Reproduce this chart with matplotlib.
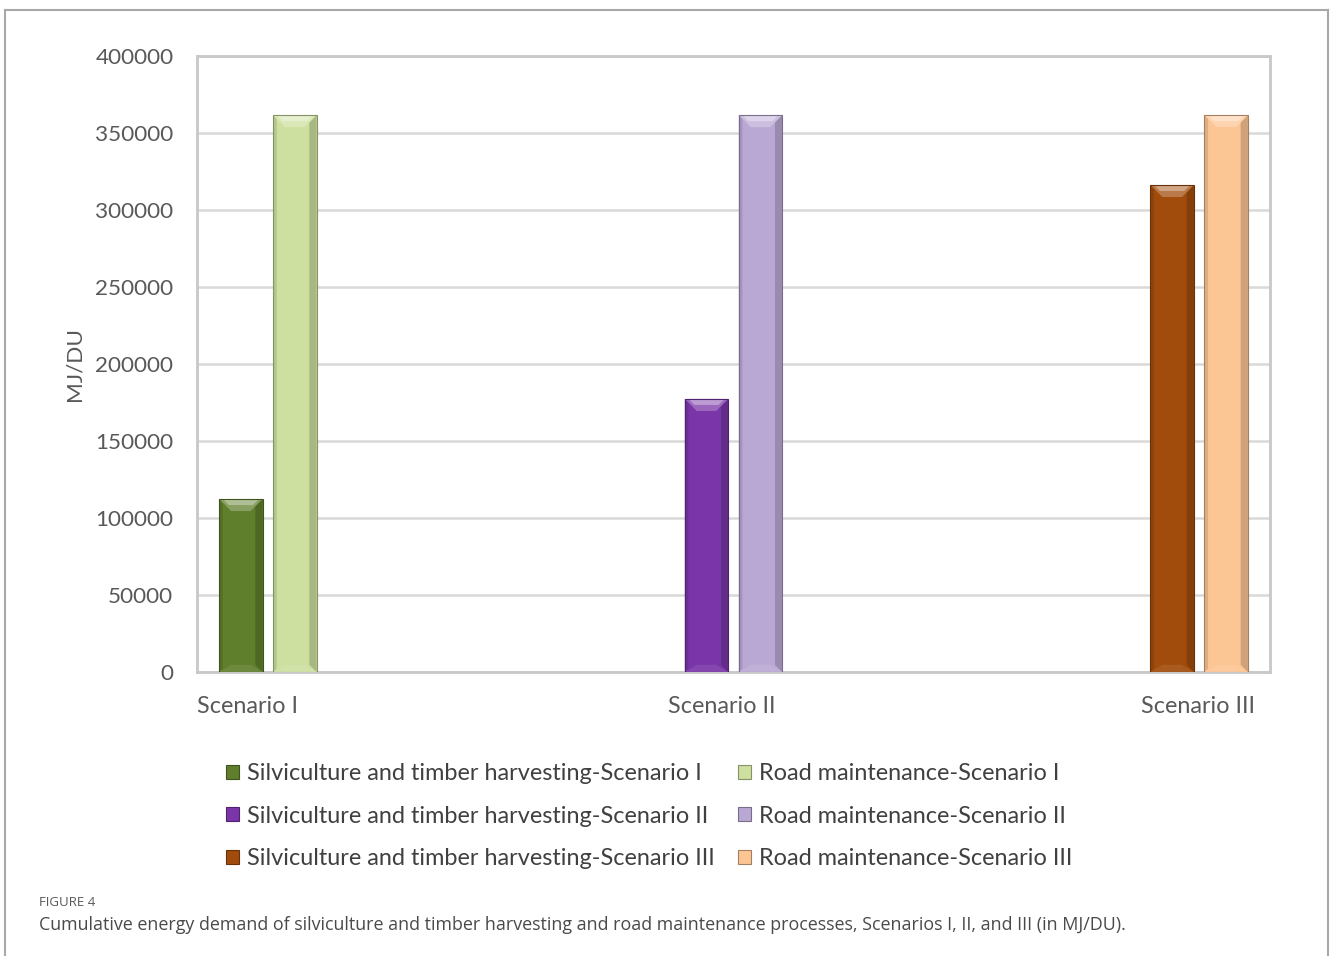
import numpy as np
import matplotlib.pyplot as plt
from matplotlib.patches import Polygon, Rectangle
from matplotlib.lines import Line2D
import matplotlib.colors as mcolors

plt.rcParams['font.family'] = ['Lato', 'DejaVu Sans']

# data
categories = ['Scenario I', 'Scenario II', 'Scenario III']
series = ['Silviculture and timber harvesting-Scenario I',
          'Road maintenance-Scenario I',
          'Silviculture and timber harvesting-Scenario II',
          'Road maintenance-Scenario II',
          'Silviculture and timber harvesting-Scenario III',
          'Road maintenance-Scenario III']
# each series only has a value in its own scenario
values = [[112300, 0, 0],
          [361600, 0, 0],
          [0, 177300, 0],
          [0, 361600, 0],
          [0, 0, 316200],
          [0, 0, 361600]]
colors = ['#5f7f2c', '#cde0a0', '#7a36a8', '#baa8d4', '#a14c0c', '#fcc594']

fig = plt.figure(figsize=(13.31, 9.56), dpi=100)
ax = fig.add_axes([197/1331, 1-672/956, 1073/1331, 616/956])

x = np.arange(len(categories))
step = 54/357.7
width = 43.4/357.7
bev_x = 12/357.7
bev_y = 12/77*50000


def shade(c, f):
    r = np.array(mcolors.to_rgb(c))
    if f > 0:
        r = r + (1 - r)*f
    else:
        r = r*(1 + f)
    return np.clip(r, 0, 1)


for k in range(len(series)):
    xs = x + (k - 2.5)*step
    bars = ax.bar(xs, values[k], width=width, color=colors[k],
                  edgecolor='none', linewidth=0, zorder=3)
    for b in bars:
        h = b.get_height()
        if h <= 0:
            continue
        x0, x1 = b.get_x(), b.get_x() + b.get_width()
        c = colors[k]
        # side bevels
        ax.add_patch(Polygon([(x0, 0), (x0 + bev_x*0.3, bev_y*0.3), (x0 + bev_x*0.3, h - bev_y*0.3), (x0, h)],
                             closed=True, facecolor=shade(c, -0.12), edgecolor='none', zorder=4))
        ax.add_patch(Polygon([(x1, 0), (x1 - bev_x*0.6, bev_y*0.6), (x1 - bev_x*0.6, h - bev_y*0.6), (x1, h)],
                             closed=True, facecolor=shade(c, -0.18), edgecolor='none', zorder=4))
        # bottom bevel
        ax.add_patch(Polygon([(x0, 0), (x1, 0), (x1 - bev_x, bev_y*0.6), (x0 + bev_x, bev_y*0.6)],
                             closed=True, facecolor=shade(c, 0.08), edgecolor='none', zorder=4))
        # top bevel, lighter
        ax.add_patch(Polygon([(x0, h), (x1, h), (x1 - bev_x, h - bev_y), (x0 + bev_x, h - bev_y)],
                             closed=True, facecolor=shade(c, 0.25), edgecolor='none', zorder=4))
        ax.add_patch(Polygon([(x0 + bev_x*0.3, h), (x1 - bev_x*0.3, h),
                              (x1 - bev_x*0.8, h - bev_y*0.5), (x0 + bev_x*0.8, h - bev_y*0.5)],
                             closed=True, facecolor=shade(c, 0.5), edgecolor='none', zorder=4))
        ax.add_patch(Rectangle((x0, 0), x1 - x0, h, facecolor='none',
                               edgecolor=shade(c, -0.35), linewidth=0.8, zorder=5))

ax.set_xlim(-0.5, 2.5)
ax.set_ylim(0, 400000)
ax.set_yticks(np.arange(0, 400001, 50000))
ax.yaxis.grid(True, color='#d9d9d9', linewidth=1.8, zorder=0)
ax.set_axisbelow(True)
for s in ax.spines.values():
    s.set_color('#c8c8c8')
    s.set_linewidth(2)
ax.tick_params(axis='both', length=0, labelcolor='#595959')
ax.tick_params(axis='y', pad=17, labelsize=16.2)
ax.set_xticks([(248-197)/357.7 - 0.5, (722-197)/357.7 - 0.5, (1198-197)/357.7 - 0.5])
ax.set_xticklabels(categories)
ax.tick_params(axis='x', pad=17, labelsize=16.8)
ax.set_ylabel('MJ/DU', fontsize=16.2, color='#595959', labelpad=8)

handles = [Rectangle((0, 0), 1, 1, facecolor=colors[i], edgecolor=shade(colors[i], -0.35), linewidth=0.8)
           for i in [0, 2, 4, 1, 3, 5]]
labels = [series[i] for i in [0, 2, 4, 1, 3, 5]]
fig.legend(handles, labels, ncol=2, loc='upper left', bbox_to_anchor=(226/1331, 1-763/956),
           frameon=False, fontsize=16.9, labelcolor='#404040', handlelength=0.55, handleheight=0.55,
           handletextpad=0.35, columnspacing=1.0, labelspacing=0.92, borderaxespad=0, borderpad=0)

fig.text(39/1331, 1-902/956, 'FIGURE 4', fontsize=9.5, color='#595959', va='center',
         family=['Open Sans', 'DejaVu Sans'])
fig.text(39/1331, 1-925/956,
         'Cumulative energy demand of silviculture and timber harvesting and road maintenance processes, '
         'Scenarios I, II, and III (in MJ/DU).',
         fontsize=12.85, color='#4a4a4a', va='center', family=['Open Sans', 'DejaVu Sans'])

# outer frame
for (xa, ya) in [((5, 5), (956, 10)), ((5, 1328), (10, 10)), ((1328, 1328), (10, 956))]:
    fig.add_artist(Line2D([p/1331 for p in xa], [1 - p/956 for p in ya], color='#a8a8a8', linewidth=1.5))

fig.savefig('out.png', dpi=100)
